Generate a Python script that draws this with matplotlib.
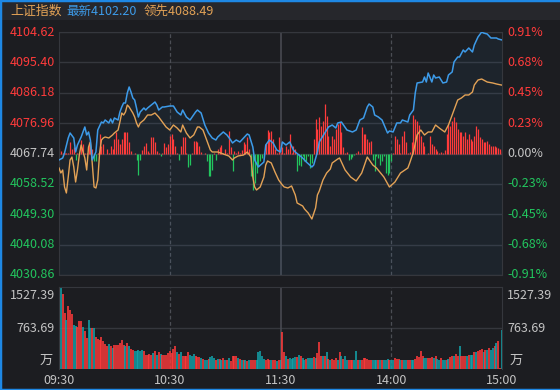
import numpy as np
import matplotlib.pyplot as plt
from matplotlib.lines import Line2D
from matplotlib.patches import Rectangle
import matplotlib.transforms as mtransforms

plt.rcParams['font.family'] = ['Noto Sans CJK SC', 'DejaVu Sans']

# ---- data ----
prev_close = 4067.74
price_ticks = [4104.62, 4095.40, 4086.18, 4076.96, 4067.74, 4058.52, 4049.30, 4040.08, 4030.86]
pct_labels = ['0.91%', '0.68%', '0.45%', '0.23%', '0.00%', '-0.23%', '-0.45%', '-0.68%', '-0.91%']
vol_ticks = [1527.39, 763.69]
time_ticks = [0, 60, 120, 180, 240]
time_labels = ['09:30', '10:30', '11:30', '14:00', '15:00']

# 上证指数 (minutes since 09:30, value)
index_min = [0, 2, 3, 5, 6, 8, 9, 10, 12, 14, 15, 16, 17, 18, 20, 21, 23, 24, 25, 27, 28, 29, 30, 32, 33, 34,
             35, 36, 37, 38, 39, 40, 41, 42, 43, 44, 46, 47, 48, 50, 52, 53, 54, 56, 57, 60, 62, 64, 66, 67,
             69, 71, 74, 75, 77, 79, 81, 83, 85, 86, 89, 91, 93, 94, 96, 98, 100, 102, 103, 105, 106, 108,
             111, 112, 114, 116, 118, 120, 121, 123, 125, 127, 128, 130, 132, 134, 137, 138, 140, 141, 144,
             146, 148, 150, 151, 153, 156, 159, 161, 163, 165, 167, 168, 170, 171, 173, 175, 178, 179, 181,
             183, 185, 186, 189, 190, 192, 193, 194, 197, 198, 199, 200, 202, 203, 204, 206, 208, 210, 211,
             213, 214, 216, 217, 219, 220, 222, 224, 225, 227, 229, 230, 232, 234, 235, 237, 238, 240]
index_val = [4065.77, 4066.38, 4067.89, 4072.45, 4073.96, 4072.45, 4068.20, 4070.32, 4072.75, 4075.79,
             4073.36, 4074.27, 4071.84, 4065.77, 4068.20, 4074.87, 4077.30, 4077.00, 4077.91, 4077.00,
             4078.21, 4077.00, 4078.52, 4077.91, 4080.34, 4081.86, 4083.07, 4083.07, 4086.10, 4087.93,
             4086.41, 4084.59, 4083.98, 4081.55, 4078.82, 4080.34, 4081.55, 4080.94, 4081.55, 4082.46,
             4083.37, 4082.46, 4080.94, 4081.86, 4081.86, 4082.16, 4082.16, 4080.34, 4079.43, 4080.94,
             4078.82, 4077.91, 4080.34, 4080.94, 4080.03, 4076.39, 4073.96, 4072.45, 4071.84, 4072.75,
             4074.27, 4073.36, 4071.84, 4070.93, 4071.84, 4071.23, 4072.45, 4073.66, 4073.36, 4069.72,
             4065.77, 4063.65, 4065.16, 4070.32, 4071.84, 4070.93, 4068.80, 4068.20, 4071.23, 4070.32,
             4071.23, 4068.80, 4068.20, 4067.29, 4066.38, 4065.16, 4063.65, 4064.25, 4068.20, 4071.23,
             4073.96, 4075.79, 4076.39, 4075.48, 4077.00, 4077.30, 4074.87, 4074.27, 4074.87, 4077.91,
             4078.52, 4081.86, 4082.77, 4081.86, 4079.43, 4078.82, 4077.91, 4073.96, 4074.57, 4074.27,
             4077.00, 4077.00, 4077.91, 4077.30, 4079.43, 4080.94, 4086.10, 4089.14, 4089.44, 4090.96,
             4089.44, 4092.17, 4089.44, 4091.57, 4090.66, 4090.96, 4089.14, 4089.44, 4091.57, 4092.48,
             4095.51, 4097.03, 4097.03, 4099.15, 4098.55, 4099.76, 4098.55, 4100.67, 4103.10, 4104.62,
             4104.31, 4104.01, 4102.80, 4102.80, 4102.80, 4102.49, 4102.20]

# 领先指标
lead_min = [0, 1, 2, 3, 4, 5, 6, 7, 8, 9, 10, 11, 12, 14, 15, 16, 17, 18, 19, 20, 21, 22, 23, 24, 25, 27,
            29, 30, 32, 33, 34, 35, 36, 37, 38, 40, 41, 42, 43, 44, 46, 48, 50, 52, 54, 56, 58, 60, 62, 64,
            66, 67, 69, 71, 73, 75, 76, 78, 80, 82, 83, 86, 89, 92, 94, 95, 97, 100, 102, 104, 105, 106,
            107, 109, 111, 112, 113, 115, 117, 119, 121, 122, 124, 126, 128, 129, 132, 133, 135, 137, 139,
            140, 141, 143, 145, 147, 148, 151, 152, 155, 158, 161, 164, 167, 170, 172, 176, 179, 182, 185,
            189, 190, 192, 194, 196, 198, 200, 202, 204, 206, 209, 211, 213, 215, 216, 218, 220, 222, 224,
            225, 227, 229, 232, 235, 237, 240]
lead_val = [4063.34, 4061.82, 4062.73, 4057.58, 4055.75, 4060.61, 4065.77, 4066.68, 4063.65, 4059.09,
            4062.73, 4067.29, 4070.32, 4066.38, 4062.73, 4069.72, 4071.23, 4064.86, 4057.58, 4057.27,
            4059.70, 4067.89, 4071.84, 4072.45, 4072.75, 4072.45, 4073.36, 4073.96, 4074.87, 4077.30,
            4080.03, 4079.43, 4080.34, 4082.46, 4081.86, 4080.03, 4078.82, 4077.00, 4075.79, 4077.00,
            4077.91, 4079.43, 4079.43, 4080.03, 4078.82, 4077.30, 4075.79, 4074.87, 4076.39, 4075.48,
            4074.27, 4076.39, 4073.96, 4072.45, 4073.36, 4075.79, 4075.79, 4074.87, 4071.84, 4068.80,
            4068.20, 4068.20, 4067.59, 4066.98, 4065.77, 4066.38, 4066.98, 4067.29, 4068.20, 4066.68,
            4060.61, 4057.58, 4056.66, 4057.58, 4060.61, 4064.25, 4065.47, 4064.86, 4062.13, 4059.70,
            4058.18, 4057.58, 4057.27, 4057.88, 4055.15, 4052.72, 4051.81, 4050.90, 4049.68, 4047.86,
            4051.20, 4055.15, 4056.36, 4059.70, 4061.82, 4063.04, 4064.86, 4066.07, 4066.38, 4062.73,
            4060.61, 4059.40, 4061.82, 4066.68, 4064.25, 4063.34, 4060.61, 4057.58, 4059.09, 4061.82,
            4063.34, 4064.86, 4068.20, 4073.36, 4074.87, 4073.36, 4074.27, 4074.27, 4076.39, 4075.48,
            4074.27, 4076.39, 4079.43, 4082.46, 4083.98, 4084.59, 4085.50, 4085.50, 4086.41, 4088.53,
            4090.05, 4090.35, 4089.44, 4089.14, 4088.84, 4088.49]

# 买卖力道 bars, one per minute (positive = red, negative = green)
force = [6, 3, 1, 1, 1, 1, 12, 5, 7, -7,
         1, 1, 14, 10, 1, 1, 12, 8, 5, -8,
         -8, 1, 20, 8, 10, -1, 5, 1, 8, 5,
         15, 22, 15, 10, 15, 22, 22, 22, 12, 3,
         -1, 1, -7, -22, -7, 4, 8, 11, 3, 1,
         17, 17, 12, 3, 1, -3, 1, 11, 7, 10,
         18, 20, 15, 8, 1, -7, 8, 17, 17, 1,
         -14, -12, 1, 13, 13, 12, 8, 2, -1, 1,
         -8, -23, -23, -17, 1, -7, 5, 7, 9, 1,
         5, 1, 23, 7, -18, 3, 1, 3, 1, 4,
         12, 10, 17, 5, -23, -37, -30, -20, -13, -8,
         -5, 1, 10, 24, 22, 23, 15, 5, 1, 17,
         1, 7, 1, 8, 5, 20, 1, 8, 5, -18,
         -12, -13, -3, -8, -8, -3, -15, -10, 15, 35,
         25, 37, 28, 33, 50, 38, 18, 8, 18, 15,
         25, 30, 32, 22, 7, 1, 2, -7, -6, -4,
         -2, 1, 3, 1, 27, 20, 20, 15, 12, 13,
         -7, -18, -3, -5, -12, -8, -3, -20, -22, -20,
         -8, 1, 18, 15, 10, 1, 18, 23, 12, 1,
         2, 12, 39, 35, 33, 29, 18, 12, 8, -1,
         1, 18, 10, 8, 5, 3, 1, 2, 1, 4,
         20, 30, 28, 33, 37, 32, 25, 22, 22, 18,
         22, 15, 20, 15, 13, 18, 28, 25, 17, 15,
         12, 12, 13, 10, 8, 8, 8, 7, 6, 5,
         3]

# 成交量 (万), one per minute
volume = [727, 1527.39, 1403, 1043, 907, 1180, 1093, 1031, 826, 795,
          782, 900, 900, 776, 702, 578, 919, 764, 764, 764,
          596, 559, 546, 596, 515, 472, 435, 472, 422, 391,
          453, 453, 453, 484, 534, 453, 422, 484, 422, 373,
          360, 342, 329, 348, 329, 360, 329, 267, 267, 286,
          267, 298, 342, 267, 311, 286, 267, 267, 267, 298,
          329, 298, 373, 435, 311, 286, 311, 248, 236, 248,
          311, 267, 236, 286, 236, 224, 224, 205, 186, 174,
          174, 186, 224, 236, 205, 174, 186, 186, 161, 205,
          161, 174, 205, 155, 236, 248, 248, 205, 186, 174,
          174, 161, 155, 174, 174, 161, 174, 161, 311, 329,
          248, 186, 174, 186, 174, 174, 161, 174, 143, 161,
          174, 683, 311, 248, 186, 205, 186, 205, 224, 224,
          267, 248, 205, 174, 186, 205, 205, 205, 224, 205,
          298, 497, 248, 248, 236, 311, 186, 174, 186, 174,
          205, 174, 311, 248, 186, 248, 174, 161, 161, 174,
          174, 329, 174, 161, 174, 199, 199, 186, 174, 174,
          161, 174, 174, 161, 174, 174, 161, 174, 186, 174,
          161, 174, 211, 186, 186, 174, 174, 174, 174, 161,
          174, 174, 174, 186, 236, 224, 329, 248, 211, 211,
          211, 211, 224, 199, 236, 186, 174, 199, 174, 174,
          174, 186, 224, 248, 236, 286, 236, 435, 248, 236,
          236, 248, 267, 267, 267, 311, 311, 329, 348, 373,
          311, 348, 360, 391, 348, 391, 422, 484, 515, 19,
          720]
# r = up minute, t = down minute, w = opening auction
vol_dir = ("wtrrtrrrtt" "rrrtrrttrt" "rrrrrrrtrt" "rrrrrrtrtr" "rtttttrrrr" "rtrtrtrrrr"
           "rrrrtrtrrr" "rtttrrrtrt" "trtttrtrtr" "trtrrrrtrt" "rtrtrrrttt" "ttrrrtrrtr" "t"
           "rrtrttttrt" "rttrtttrtr" "rrtrtrtrrr" "trtrttrrrt" "trtrrrrrrt" "ttrtrtttrt"
           "trrrtrttrr" "ttrrrrrttr" "rrtrttrttr" "trrtrrtrrr" "trttrtrrrt" "rtrttrtrrt")

# ---- style ----
BG = '#1c1d21'
HEAD = '#26272c'
GRID = '#35373d'
RED = '#ff3b3b'
GREEN = '#22c55e'
TEAL = '#12a4ab'
BLUE = '#3d9be9'
ORANGE = '#e3a256'
GREY = '#c4c4c4'
vol_colors = {'r': RED, 't': TEAL, 'w': '#f0f0f0'}

W, H = 560, 390
fig = plt.figure(figsize=(5.6, 3.9), dpi=100, facecolor=BG)

def fx(px):
    return px / W

def fy(py):
    return 1 - py / H

# header band and frame
fig.patches.append(Rectangle((0, fy(20)), 1, 1 - fy(20), transform=fig.transFigure,
                             facecolor=HEAD, edgecolor='none', zorder=0))
for xs, ys in [([0, 0], [0, 1]), ([0, 1], [1, 1]), ([0, 1], [0, 0])]:
    fig.add_artist(Line2D(xs, ys, transform=fig.transFigure, color='#1e88e5', lw=2.5))

fig.text(fx(10), fy(11), '上证指数', color=ORANGE, fontsize=9.3, va='center', ha='left')
fig.text(fx(66), fy(11), '最新4102.20', color=BLUE, fontsize=9, va='center', ha='left')
fig.text(fx(144), fy(11), '领先4088.49', color=ORANGE, fontsize=9, va='center', ha='left')

# ---- price panel ----
ax = fig.add_axes([fx(59), fy(275), fx(502) - fx(59), fy(32) - fy(275)])
ax.set_facecolor(BG)
ax.set_xlim(0, 240)
ax.set_ylim(price_ticks[-1], price_ticks[0])
for v in price_ticks:
    ax.axhline(v, color=GRID, lw=1, zorder=0)
for t in [60, 180]:
    ax.axvline(t, color='#4b4d54', lw=0.9, ls=(0, (3, 2)), zorder=0)
ax.axvline(120, color='#4b4d54', lw=1.1, zorder=0)

ax.fill_between(index_min, index_val, price_ticks[-1], color=BLUE, alpha=0.06, lw=0, zorder=1)

mins = np.arange(len(force))
force_arr = np.array(force, dtype=float) * 0.3035
ax.vlines(mins, prev_close, prev_close + force_arr,
          colors=[RED if f > 0 else GREEN for f in force], lw=0.9, zorder=2)

ax.plot(lead_min, lead_val, color=ORANGE, lw=1.0, zorder=3)
ax.plot(index_min, index_val, color=BLUE, lw=1.1, zorder=4)

for sp in ax.spines.values():
    sp.set_color(GRID)
ax.set_xticks([])
ax.set_yticks([])

tr = mtransforms.blended_transform_factory(ax.transAxes, ax.transData)
for v, lab in zip(price_ticks, pct_labels):
    c = RED if v > prev_close else (GREEN if v < prev_close else GREY)
    ax.text(-0.009, v, f'{v:.2f}', transform=tr, ha='right', va='center', color=c, fontsize=9)
    ax.text(1.012, v, lab, transform=tr, ha='left', va='center', color=c, fontsize=9)

# ---- volume panel ----
vx = fig.add_axes([fx(59), fy(369), fx(502) - fx(59), fy(287) - fy(369)])
vx.set_facecolor(BG)
vx.set_xlim(0, 240)
vx.set_ylim(0, vol_ticks[0])
vx.axhline(vol_ticks[1], color=GRID, lw=1, zorder=0)
for t in [60, 180]:
    vx.axvline(t, color='#4b4d54', lw=0.9, ls=(0, (3, 2)), zorder=0)
vx.axvline(120, color='#4b4d54', lw=1.1, zorder=0)
vx.vlines(np.arange(len(volume)), 0, volume, colors=[vol_colors[d] for d in vol_dir], lw=1.15, zorder=2)
for sp in vx.spines.values():
    sp.set_color(GRID)
vx.spines['bottom'].set_visible(False)
vx.set_xticks([])
vx.set_yticks([])

vt = vx.transAxes
vx.text(-0.009, 0.90, f'{vol_ticks[0]:.2f}', transform=vt, ha='right', va='center', color=GREY, fontsize=9)
vx.text(1.012, 0.90, f'{vol_ticks[0]:.2f}', transform=vt, ha='left', va='center', color=GREY, fontsize=9)
vx.text(-0.009, 0.5, f'{vol_ticks[1]:.2f}', transform=vt, ha='right', va='center', color=GREY, fontsize=9)
vx.text(1.012, 0.5, f'{vol_ticks[1]:.2f}', transform=vt, ha='left', va='center', color=GREY, fontsize=9)
vx.text(-0.015, 0.11, '万', transform=vt, ha='right', va='center', color=GREY, fontsize=9.5)
vx.text(1.018, 0.11, '万', transform=vt, ha='left', va='center', color=GREY, fontsize=9.5)

for t, lab in zip(time_ticks, time_labels):
    fig.text(fx(59 + t * 443 / 240), fy(381), lab, ha='center', va='center', color=GREY, fontsize=9)

fig.savefig('out.png', dpi=100, facecolor=BG)
